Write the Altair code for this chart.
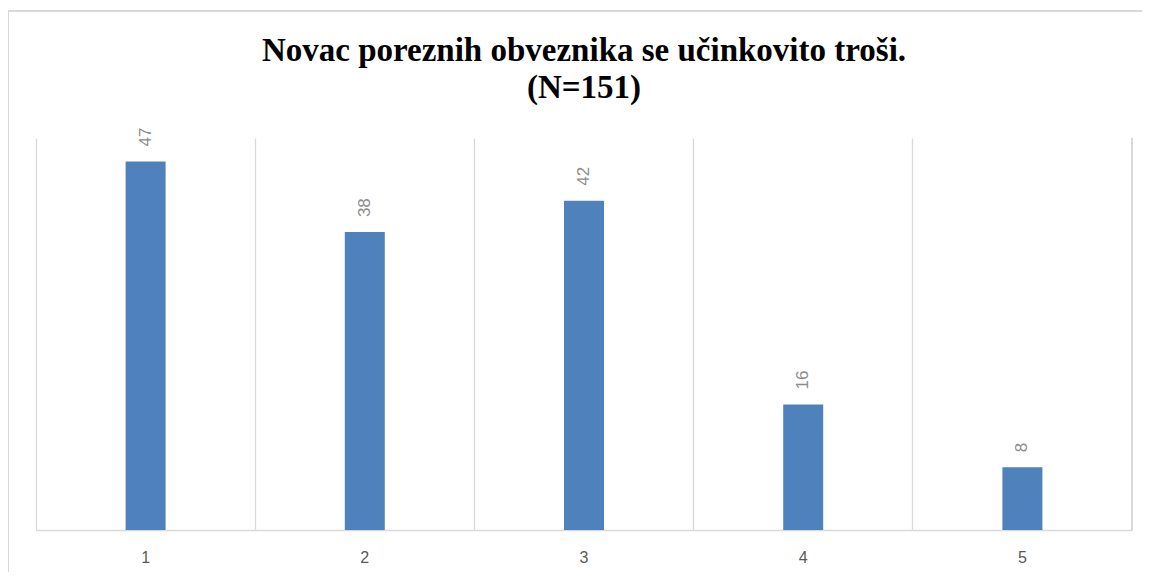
import altair as alt
import pandas as pd

categories = ["1", "2", "3", "4", "5"]
counts = [47, 38, 42, 16, 8]

title_lines = ["Novac poreznih obveznika se učinkovito troši.", "(N=151)"]

df = pd.DataFrame({"cat": categories, "n": counts})

W, H = 1096, 392

x_enc = alt.X(
    "cat:N",
    sort=categories,
    scale=alt.Scale(paddingInner=0, paddingOuter=0),
    axis=alt.Axis(
        title=None,
        labelAngle=0,
        grid=True,
        gridColor="#d9d9d9",
        gridWidth=1.3,
        bandPosition=0,
        ticks=False,
        domainColor="#d9d9d9",
        domainWidth=1.3,
        labelPadding=19,
        labelFont="Liberation Sans",
        labelFontSize=16,
        labelColor="#595959",
    ),
)
y_enc = alt.Y("n:Q", scale=alt.Scale(domain=[0, 50]), axis=None)

base = alt.Chart(df)

bars = base.mark_bar(width=40, color="#4F81BD").encode(x=x_enc, y=y_enc)

labels = base.mark_text(
    angle=270,
    align="left",
    baseline="middle",
    dx=15,
    font="Liberation Sans",
    fontSize=17,
    color="#8c8c8c",
).encode(x=alt.X("cat:N", sort=categories), y="n:Q", text="n:Q")

right_edge = base.mark_rule(color="#d9d9d9", strokeWidth=1.3).encode(
    x=alt.value(W), y=alt.value(0), y2=alt.value(H)
)

border_left = base.mark_rule(color="#d9d9d9", strokeWidth=1.5, clip=False).encode(
    x=alt.value(-28), y=alt.value(-127), y2=alt.value(H + 60)
)
border_top = base.mark_rule(color="#d9d9d9", strokeWidth=1.5, clip=False).encode(
    x=alt.value(-28), x2=alt.value(W + 30), y=alt.value(-127)
)

title_mark = alt.Chart(pd.DataFrame({"k": [0]})).mark_text(
    text=title_lines,
    font="Liberation Serif",
    fontSize=33,
    fontWeight="bold",
    color="#000000",
    align="center",
    baseline="alphabetic",
    lineHeight=37,
).encode(x=alt.value(W / 2), y=alt.value(-77))

chart = (
    alt.layer(border_left, border_top, right_edge, bars, labels, title_mark)
    .properties(
        width=W,
        height=H,
        autosize=alt.AutoSizeParams(type="none"),
        padding={"left": 28, "top": 130, "right": 10, "bottom": 42},
    )
    .configure(background="white")
    .configure_view(stroke=None)
)

chart.save("out.html", embed_options={"renderer": "svg", "actions": False})
